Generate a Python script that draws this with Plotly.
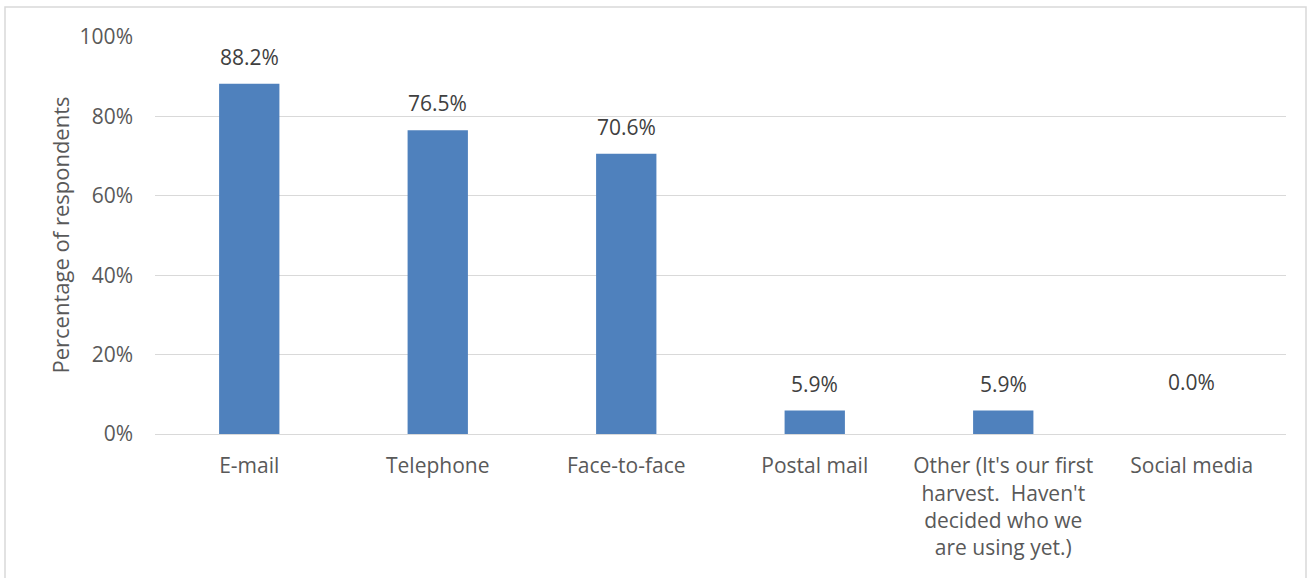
import plotly.graph_objects as go

# Survey responses: preferred communication channel
categories = [
    "E-mail",
    "Telephone",
    "Face-to-face",
    "Postal mail",
    "Other (It's our first<br>harvest.  Haven't<br>decided who we<br>are using yet.)",
    "Social media",
]
percentages = [88.2, 76.5, 70.6, 5.9, 5.9, 0.0]
y_ticks = [0, 20, 40, 60, 80, 100]
y_tick_text = ["0%", "20%", "40%", "60%", "80%", "100%"]

W, H = 1307, 578
L, R, T, B = 155, 21, 37, 144
plot_w = W - L - R
plot_h = H - T - B

FONT = "Open Sans, Segoe UI, Calibri, sans-serif"
BAR_BLUE = "#4F81BD"
GRID = "#D9D9D9"
TEXT = "#595959"
LABEL = "#404040"

x_idx = list(range(len(categories)))

fig = go.Figure()
fig.add_trace(
    go.Bar(
        x=x_idx,
        y=percentages,
        marker=dict(color=BAR_BLUE, line=dict(width=0)),
        width=0.32,
        hoverinfo="skip",
    )
)

# value labels above each bar
label_lift = [11, 11, 11, 11, 11, 36]
for xi, v, lift in zip(x_idx, percentages, label_lift):
    fig.add_annotation(
        x=xi, y=v, xref="x", yref="y",
        text=f"{v:.1f}%",
        showarrow=False,
        yanchor="bottom",
        yshift=lift,
        font=dict(family=FONT, size=21, color=LABEL),
    )

# y-axis title
fig.add_annotation(
    x=(59 - L) / plot_w, y=0.5, xref="paper", yref="paper",
    text="Percentage of respondents",
    textangle=-90,
    showarrow=False,
    xanchor="center", yanchor="middle",
    font=dict(family=FONT, size=22, color=TEXT),
)

# chart frame
fig.add_shape(
    type="rect", xref="paper", yref="paper",
    x0=(5 - L) / plot_w, x1=(1306 - L) / plot_w,
    y0=-0.5, y1=(H - B - 7) / plot_h,
    line=dict(color=GRID, width=1.5),
    fillcolor="rgba(0,0,0,0)",
    layer="below",
)

fig.update_layout(
    width=W, height=H,
    margin=dict(l=L, r=R, t=T, b=B, autoexpand=False),
    paper_bgcolor="white",
    plot_bgcolor="white",
    showlegend=False,
    xaxis=dict(
        tickmode="array",
        tickvals=x_idx,
        ticktext=categories,
        range=[-0.5, len(categories) - 0.5],
        showgrid=False,
        zeroline=False,
        showline=True,
        linecolor=GRID,
        linewidth=1,
        ticks="",
        ticklabelstandoff=13,
        tickfont=dict(family=FONT, size=21, color=TEXT),
        fixedrange=True,
    ),
    yaxis=dict(
        range=[0, 100],
        tickmode="array",
        tickvals=y_ticks,
        ticktext=y_tick_text,
        showgrid=True,
        gridcolor=GRID,
        gridwidth=1,
        zeroline=False,
        showline=False,
        ticks="",
        ticklabelstandoff=21,
        tickfont=dict(family=FONT, size=21, color=TEXT),
        fixedrange=True,
    ),
)

fig.write_html("out.html")
